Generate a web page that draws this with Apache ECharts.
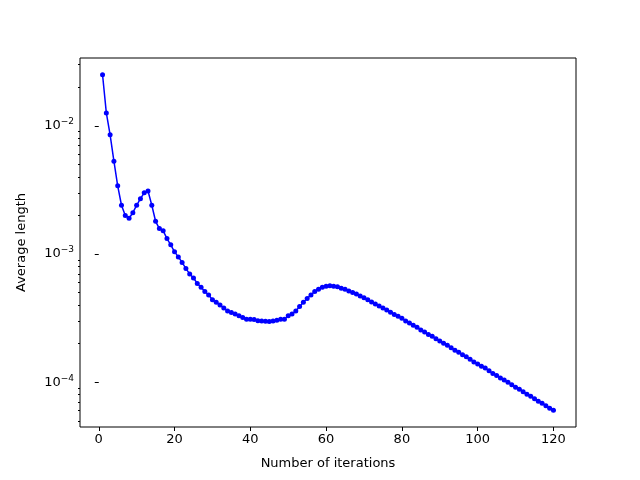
<!DOCTYPE html>
<html><head><meta charset="utf-8">
<script src="https://cdn.jsdelivr.net/npm/echarts@6/dist/echarts.min.js"></script>
<style>html,body{margin:0;padding:0;background:#fff}#c{width:640px;height:480px}</style>
</head><body><div id="c"></div>
<script>
const iterations = Array.from({length:120},(_,i)=>i+1);
const avgLength = [
0.0250,0.0126,0.0085,0.0053,0.0034,0.0024,0.0020,0.0019,0.0021,0.0024,
0.0027,0.0030,0.0031,0.0024,0.0018,0.00158,0.00152,0.00132,0.00118,0.00104,
0.00095,0.00086,0.00077,0.00070,0.00065,0.00059,0.00055,0.00051,0.00048,0.00044,
0.00042,0.00040,0.00038,0.00036,0.00035,0.00034,0.00033,0.00032,0.00031,0.00031,
0.000308,0.000302,0.000300,0.000299,0.000298,0.000301,0.000304,0.00031,0.00031,0.00033,
0.00034,0.00036,0.00039,0.00042,0.00045,0.00048,0.00051,0.00053,0.00055,0.00056,
0.000565,0.00056,0.000555,0.00054,0.00053,0.000515,0.000501,0.000488,0.000471,0.000455,
0.000439,0.000423,0.000408,0.000394,0.000380,0.000366,0.000351,0.000338,0.000327,0.000315,
0.000301,0.000290,0.000278,0.000268,0.000256,0.000247,0.000236,0.000228,0.000218,0.000210,
0.000201,0.000194,0.000186,0.000178,0.000171,0.000164,0.000158,0.000151,0.000144,0.000139,
0.000133,0.000129,0.000123,0.000117,0.000113,0.000108,0.000104,0.000100,0.0000957,0.0000915,
0.0000883,0.0000844,0.0000807,0.0000778,0.0000745,0.0000712,0.0000687,0.0000657,0.0000628,0.0000605
];
const xTicks = [0,20,40,60,80,100,120];
const yMajorExp = [-4,-3,-2];
const yMinor = [];
[-5,-4,-3,-2].forEach(e=>{for(let k=2;k<10;k++)yMinor.push(Math.log10(k)+e);});

const xMin=-4.95, xMax=125.95;
const lv = avgLength.map(Math.log10);
const lmin=Math.min(...lv), lmax=Math.max(...lv), pad=(lmax-lmin)*0.05;
const yMin=lmin-pad, yMax=lmax+pad;
const yMinorIn = yMinor.filter(v=>v>yMin&&v<yMax);
const font='DejaVu Sans';
const chart=echarts.init(document.getElementById('c'));
chart.setOption({
  animation:false,
  grid:{left:80,right:64,top:58,bottom:53,show:true,borderColor:'#000',borderWidth:1,backgroundColor:'transparent'},
  xAxis:{type:'value',min:xMin,max:xMax,name:'Number of iterations',nameLocation:'middle',nameGap:30,
    nameTextStyle:{fontFamily:font,fontSize:13,color:'#000'},
    axisLine:{show:false},splitLine:{show:false},
    axisTick:{customValues:xTicks,length:4,lineStyle:{color:'#000'}},
    axisLabel:{customValues:xTicks,fontFamily:font,fontSize:13,color:'#000',margin:6}},
  yAxis:[{type:'value',min:yMin,max:yMax,name:'Average length',nameLocation:'middle',nameGap:52,
    nameTextStyle:{fontFamily:font,fontSize:13,color:'#000'},
    axisLine:{show:false},splitLine:{show:false},
    axisTick:{customValues:yMajorExp,length:4,lineStyle:{color:'#000'}},
    axisLabel:{customValues:yMajorExp,margin:6,
      formatter:v=>'{b|10}{s|−'+Math.abs(Math.round(v))+'}',
      rich:{b:{fontFamily:font,fontSize:13,color:'#000'},s:{fontFamily:font,fontSize:9,color:'#000',verticalAlign:'top',padding:[0,0,8,0]}}}},
   {type:'value',min:yMin,max:yMax,position:'left',
    axisLine:{show:false},splitLine:{show:false},axisLabel:{show:false},
    axisTick:{customValues:yMinorIn,length:2,lineStyle:{color:'#000'}}}],
  series:[{type:'line',data:iterations.map((x,i)=>[x,lv[i]]),
    symbol:'circle',symbolSize:5,showSymbol:true,
    lineStyle:{color:'#0000ff',width:1.5},itemStyle:{color:'#0000ff'}}]
});
</script></body></html>
